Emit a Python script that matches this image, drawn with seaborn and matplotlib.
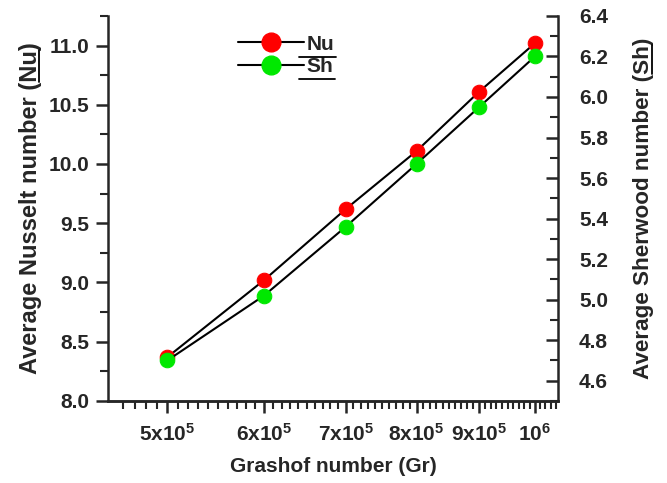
import numpy as np
import pandas as pd
import matplotlib
matplotlib.use('Agg')
import matplotlib.pyplot as plt
from matplotlib.ticker import FixedLocator, MultipleLocator
from matplotlib.lines import Line2D
import seaborn as sns

# data
grashof = [5e5, 6e5, 7e5, 8e5, 9e5, 1e6]
nusselt = [8.37, 9.02, 9.62, 10.11, 10.61, 11.02]
sherwood = [4.70, 5.02, 5.36, 5.67, 5.95, 6.20]
x_tick_labels = [r'5x10$^{5}$', r'6x10$^{5}$', r'7x10$^{5}$',
                 r'8x10$^{5}$', r'9x10$^{5}$', r'10$^{6}$']

df = pd.DataFrame({'Gr': grashof, 'Nu': nusselt, 'Sh': sherwood})

sns.set_style('ticks')
plt.rcParams['font.family'] = ['Liberation Sans', 'DejaVu Sans']
plt.rcParams['font.weight'] = 'bold'
plt.rcParams['axes.labelweight'] = 'bold'
plt.rcParams['mathtext.fontset'] = 'custom'
plt.rcParams['mathtext.rm'] = 'Liberation Sans:bold'
plt.rcParams['mathtext.bf'] = 'Liberation Sans:bold'
plt.rcParams['mathtext.it'] = 'Liberation Sans:bold'

fig, ax = plt.subplots(figsize=(6.67, 4.83), dpi=100)
fig.subplots_adjust(left=0.162, right=0.837, top=0.967, bottom=0.170)
ax2 = ax.twinx()

sns.lineplot(data=df, x='Gr', y='Nu', ax=ax, color='black', linewidth=1.5,
             marker='o', markersize=10.5, markerfacecolor='#ff0000',
             markeredgecolor='#ff0000')
sns.lineplot(data=df, x='Gr', y='Sh', ax=ax2, color='black', linewidth=1.5,
             marker='o', markersize=10.5, markerfacecolor='#00e800',
             markeredgecolor='#00e800')

ax.set_xscale('log')
ax.set_xlim(4.47e5, 1.045e6)
ax.xaxis.set_major_locator(FixedLocator(grashof))
ax.set_xticklabels(x_tick_labels)
ax.xaxis.set_minor_locator(FixedLocator(np.arange(4.6e5, 1.041e6, 1e4)))
ax.xaxis.set_minor_formatter(plt.NullFormatter())

ax.set_ylim(8.0, 11.25)
ax.yaxis.set_major_locator(MultipleLocator(0.5))
ax.yaxis.set_minor_locator(MultipleLocator(0.25))
ax2.set_ylim(4.5, 6.4)
ax2.yaxis.set_major_locator(MultipleLocator(0.2))
ax2.yaxis.set_minor_locator(MultipleLocator(0.1))

ax.set_xlabel('Grashof number (Gr)', fontsize=15, labelpad=9)
ax.set_ylabel('Average Nusselt number (Nu)', fontsize=17, labelpad=5)
ax2.set_ylabel('Average Sherwood number (Sh)', fontsize=16.2, labelpad=18)

for a in (ax, ax2):
    a.spines['top'].set_visible(False)
    for s in a.spines.values():
        s.set_linewidth(1.8)
    a.tick_params(which='major', length=8.5, width=1.8, labelsize=15)
    a.tick_params(which='minor', length=5.5, width=1.5)
ax.tick_params(axis='x', which='major', pad=7)
ax.tick_params(axis='y', which='major', pad=5)
ax2.tick_params(axis='y', which='both', direction='in')
ax2.tick_params(axis='y', which='major', pad=15)
ax2.spines['left'].set_visible(False)
ax.spines['right'].set_visible(False)

handles = [
    Line2D([], [], color='black', linewidth=1.5, marker='o', markersize=13.5,
           markerfacecolor='#ff0000', markeredgecolor='#ff0000'),
    Line2D([], [], color='black', linewidth=1.5, marker='o', markersize=13.5,
           markerfacecolor='#00e800', markeredgecolor='#00e800'),
]
leg = ax.legend(handles, ['Nu', 'Sh'],
                loc='upper left', bbox_to_anchor=(0.248, 1.0), frameon=False,
                fontsize=15, handlelength=3.15, handletextpad=0.1,
                labelspacing=0.15)
if ax2.get_legend() is not None:
    ax2.get_legend().remove()

# underline the symbols (Nu, Sh) in labels and legend
fig.canvas.draw()
renderer = fig.canvas.get_renderer()
W, H = fig.bbox.width, fig.bbox.height


def text_w(s, txt):
    w, h, d = renderer.get_text_width_height_descent(s, txt.get_fontproperties(), ismath=False)
    return w, d


def underline_vertical(txt, prefix, word):
    bb = txt.get_window_extent(renderer)
    w1, d = text_w(prefix, txt)
    w2, _ = text_w(word, txt)
    x = bb.x1 - d + 2.5
    y0, y1 = bb.y0 + w1, bb.y0 + w1 + w2
    fig.add_artist(Line2D([x / W, x / W], [y0 / H, y1 / H], color='black',
                          linewidth=1.3, transform=fig.transFigure))


def underline_horizontal(txt, word):
    bb = txt.get_window_extent(renderer)
    w2, d = text_w(word, txt)
    y = bb.y0 + d - 3
    fig.add_artist(Line2D([(bb.x0 - 7) / W, (bb.x0 + w2 + 2) / W], [y / H, y / H],
                          color='black', linewidth=1.3, transform=fig.transFigure))


underline_vertical(ax.yaxis.label, 'Average Nusselt number (', 'Nu')
underline_vertical(ax2.yaxis.label, 'Average Sherwood number (', 'Sh')
for t, word in zip(leg.get_texts(), ['Nu', 'Sh']):
    underline_horizontal(t, word)

plt.savefig('out.png', dpi=100)
